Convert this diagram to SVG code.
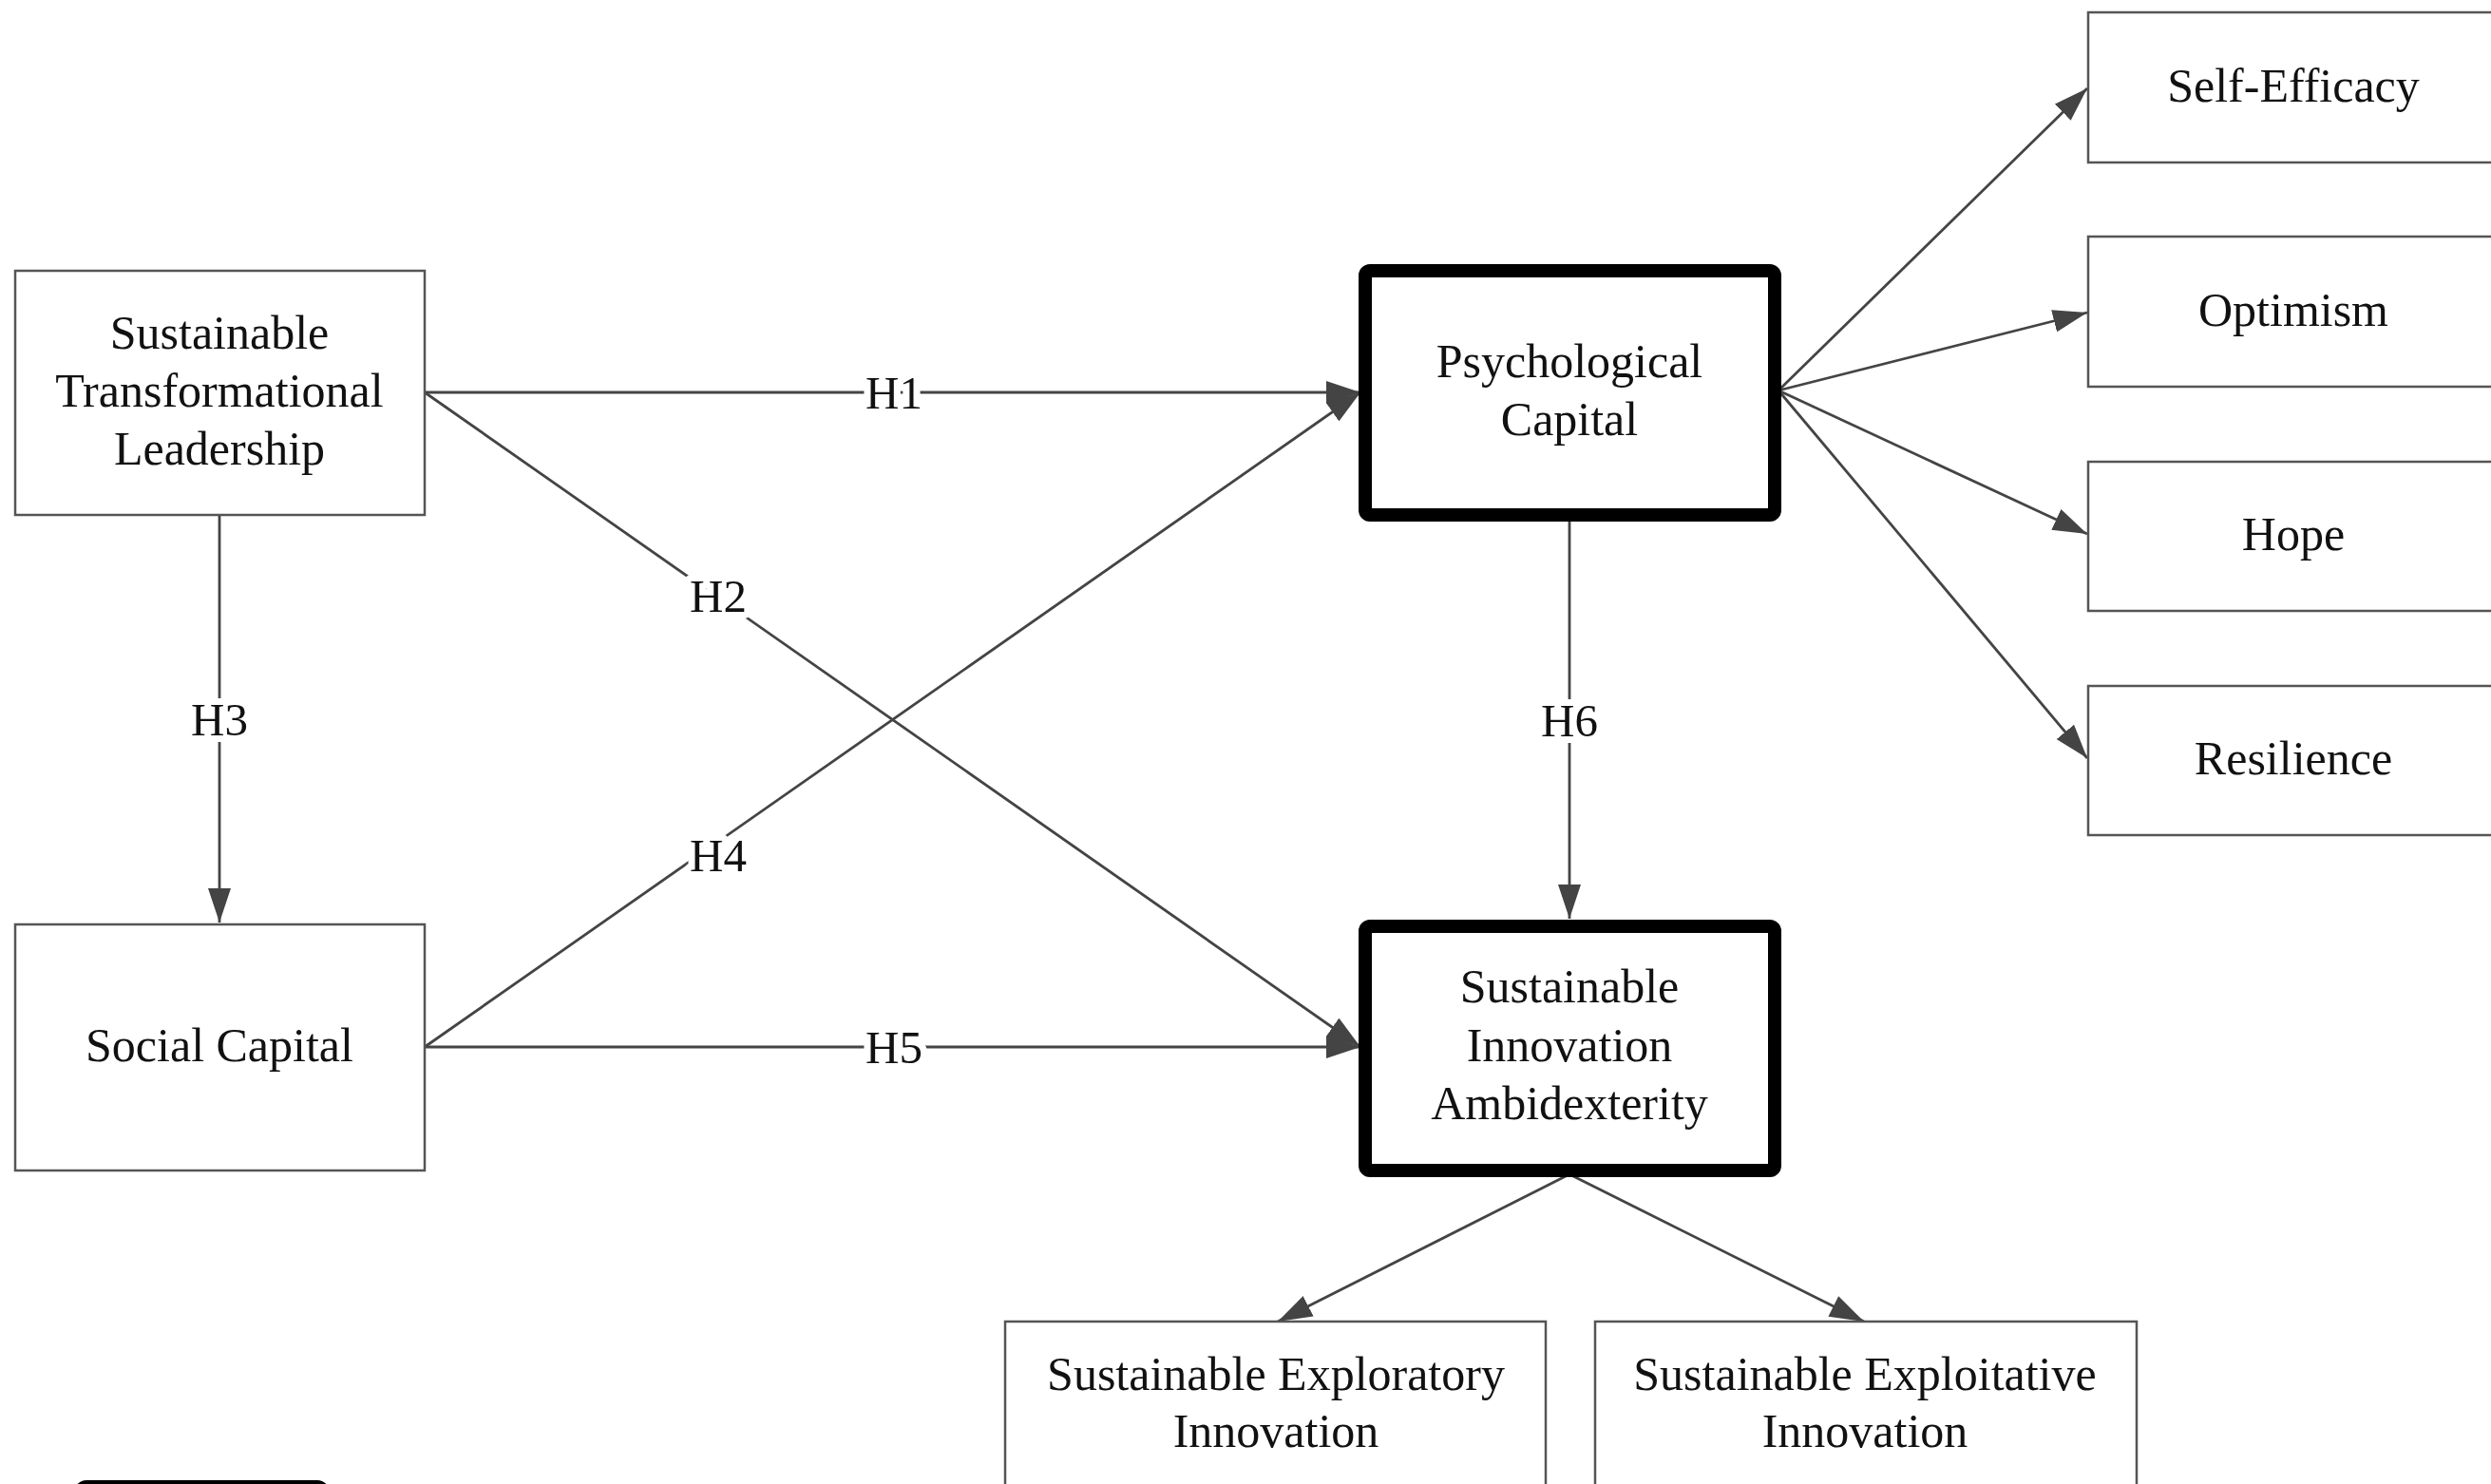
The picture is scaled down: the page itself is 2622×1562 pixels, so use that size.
<svg xmlns="http://www.w3.org/2000/svg" width="2622" height="1562" viewBox="0 0 2622 1562">
<style>
.box{fill:#fff;stroke:#555;stroke-width:2.5}
.bold{fill:#fff;stroke:#000;stroke-width:14}
.t{font-family:"Liberation Serif","Times New Roman",serif;font-size:50px;fill:#111;text-anchor:middle}
.c{stroke:#444;stroke-width:2.8;fill:none;marker-end:url(#ah)}
.lb{font-family:"Liberation Serif","Times New Roman",serif;font-size:49px;fill:#111;text-anchor:middle;stroke:#fff;stroke-width:14;paint-order:stroke;stroke-linejoin:round}
</style>
<defs>
<marker id="ah" markerUnits="userSpaceOnUse" markerWidth="36" markerHeight="24" refX="36" refY="12" orient="auto" viewBox="0 0 36 24">
<path d="M0,0 L36,12 L0,24 Z" fill="#444"/>
</marker>
</defs>
<rect width="2622" height="1562" fill="#fff"/>
<g id="connectors">
<line class="c" x1="447" y1="413" x2="1432" y2="413"/>
<line class="c" x1="447" y1="413" x2="1432" y2="1102"/>
<line class="c" x1="231" y1="542" x2="231" y2="971"/>
<line class="c" x1="447" y1="1102" x2="1432" y2="413"/>
<line class="c" x1="447" y1="1102" x2="1432" y2="1102"/>
<line class="c" x1="1652" y1="549" x2="1652" y2="967"/>
<line class="c" x1="1872" y1="411" x2="2197" y2="93"/>
<line class="c" x1="1872" y1="411" x2="2197" y2="329"/>
<line class="c" x1="1872" y1="411" x2="2197" y2="562"/>
<line class="c" x1="1872" y1="411" x2="2197" y2="798"/>
<line class="c" x1="1652" y1="1236" x2="1345" y2="1391"/>
<line class="c" x1="1652" y1="1236" x2="1962" y2="1391"/>
<text class="lb" x="941" y="430">H1</text>
<text class="lb" x="756" y="644">H2</text>
<text class="lb" x="231" y="774">H3</text>
<text class="lb" x="756" y="917">H4</text>
<text class="lb" x="941" y="1119">H5</text>
<text class="lb" x="1652" y="775">H6</text>
</g>
<g id="stl">
<rect class="box" x="16" y="285" width="431" height="257"/>
<text class="t" x="231" y="367">Sustainable</text>
<text class="t" x="231" y="428">Transformational</text>
<text class="t" x="231" y="489">Leadership</text>
</g>
<g id="social">
<rect class="box" x="16" y="973" width="431" height="259"/>
<text class="t" x="231" y="1117">Social Capital</text>
</g>
<g id="psycap">
<rect class="bold" x="1437" y="285" width="431" height="257" rx="5"/>
<text class="t" x="1652" y="397">Psychological</text>
<text class="t" x="1652" y="458">Capital</text>
</g>
<g id="sia">
<rect class="bold" x="1437" y="975" width="431" height="257" rx="5"/>
<text class="t" x="1652" y="1055">Sustainable</text>
<text class="t" x="1652" y="1117">Innovation</text>
<text class="t" x="1652" y="1178">Ambidexterity</text>
</g>
<g id="selfefficacy">
<rect class="box" x="2198" y="13" width="432" height="158"/>
<text class="t" x="2414" y="107">Self-Efficacy</text>
</g>
<g id="optimism">
<rect class="box" x="2198" y="249" width="432" height="158"/>
<text class="t" x="2414" y="343">Optimism</text>
</g>
<g id="hope">
<rect class="box" x="2198" y="486" width="432" height="157"/>
<text class="t" x="2414" y="579">Hope</text>
</g>
<g id="resilience">
<rect class="box" x="2198" y="722" width="432" height="157"/>
<text class="t" x="2414" y="815">Resilience</text>
</g>
<g id="exploratory">
<rect class="box" x="1058" y="1391" width="569" height="200"/>
<text class="t" x="1343" y="1463">Sustainable Exploratory</text>
<text class="t" x="1343" y="1523">Innovation</text>
</g>
<g id="exploitative">
<rect class="box" x="1679" y="1391" width="570" height="200"/>
<text class="t" x="1963" y="1463">Sustainable Exploitative</text>
<text class="t" x="1963" y="1523">Innovation</text>
</g>
<g id="legend">
<rect class="bold" x="85" y="1565" width="255" height="40" rx="6"/>
</g>
</svg>
